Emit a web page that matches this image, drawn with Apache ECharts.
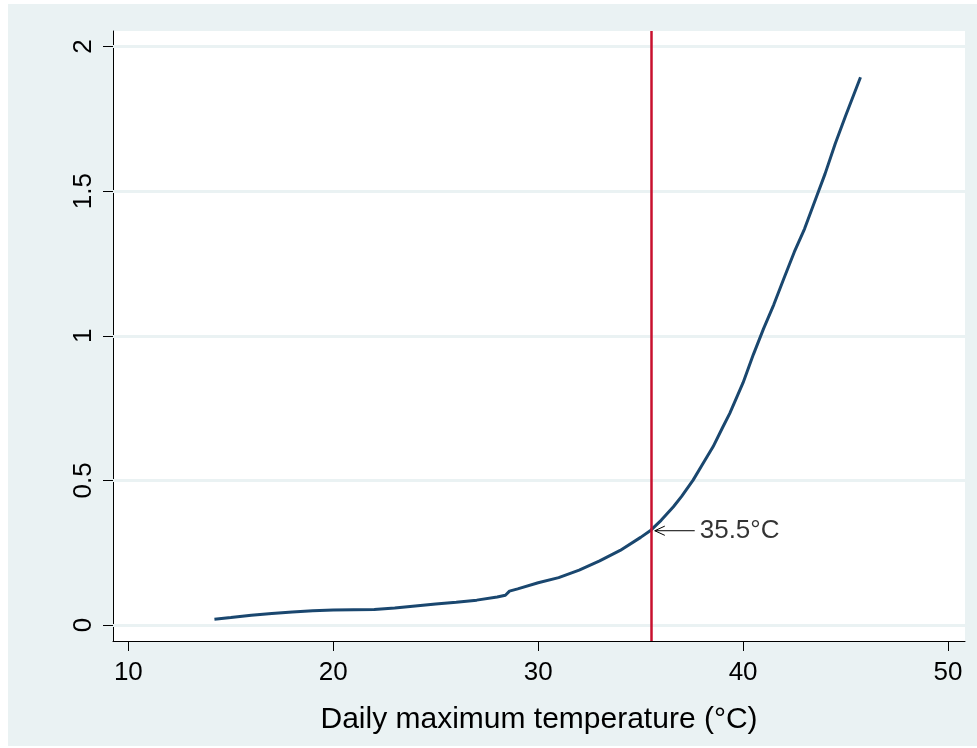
<!DOCTYPE html>
<html>
<head>
<meta charset="utf-8">
<script src="https://cdn.jsdelivr.net/npm/echarts@6/dist/echarts.min.js"></script>
<style>
html,body{margin:0;padding:0;background:#fff;}
#c{position:absolute;left:8px;top:4px;width:969px;height:742px;}
</style>
</head>
<body>
<div id="c"></div>
<script>
// Daily maximum temperature (°C) vs. response
const temps = [14.2,15,16,17,18,19,20,21,22,23,24,25,26,27,28,28.4,28.6,29,30,31,32,33,34,35,35.5,36,36.6,37,37.56,38,38.54,39,39.35,40,40.5,41,41.5,42,42.5,43,43.5,44,44.5,45,45.73];
const values = [0.020,0.026,0.034,0.040,0.045,0.049,0.052,0.053,0.054,0.059,0.066,0.073,0.079,0.086,0.097,0.103,0.117,0.125,0.146,0.164,0.190,0.222,0.258,0.303,0.328,0.362,0.409,0.445,0.501,0.553,0.617,0.683,0.732,0.838,0.935,1.025,1.108,1.200,1.290,1.370,1.465,1.560,1.665,1.760,1.894];
const xTicks = [10,20,30,40,50];
const yTicks = [0,0.5,1,1.5,2];
const yTickLabels = ['0','0.5','1','1.5','2'];
const threshold = 35.5;
const thresholdLabel = '35.5°C';
const arrowTip = [35.69, 0.326];
const arrowTail = [37.64, 0.326];
const arrowArmX = 36.18, arrowArmDy = 0.016;

const FONT = '"Liberation Sans", Arial, sans-serif';
const seriesData = temps.map((t,i)=>[t, values[i]]);
const chart = echarts.init(document.getElementById('c'));
chart.setOption({
  backgroundColor: '#eaf2f3',
  animation: false,
  grid: {left:105, top:27, right:12, bottom:105, show:true, backgroundColor:'#ffffff', borderWidth:0},
  xAxis: {
    type:'value', min:9.25, max:50.83,
    name:'Daily maximum temperature (°C)', nameLocation:'middle', nameGap:64,
    nameTextStyle:{fontFamily:FONT, fontSize:30, color:'#000', verticalAlign:'top'},
    axisLine:{show:true, onZero:false, lineStyle:{color:'#000', width:1}},
    axisTick:{show:true, length:10, customValues:xTicks, lineStyle:{color:'#000'}},
    axisLabel:{customValues:xTicks, fontFamily:FONT, fontSize:26, color:'#000', margin:19},
    splitLine:{show:false}
  },
  yAxis: {
    type:'value', min:-0.0553, max:2.054,
    axisLine:{show:true, onZero:false, lineStyle:{color:'#000', width:1}},
    axisTick:{show:true, length:10, customValues:yTicks, lineStyle:{color:'#000'}},
    axisLabel:{customValues:yTicks, rotate:90, fontFamily:FONT, fontSize:26, color:'#000', margin:16,
      formatter:(v)=>{const i=yTicks.indexOf(v);return i>=0?yTickLabels[i]:'';}},
    splitLine:{show:false}
  },
  series: [
    {
      type:'line', data:[], silent:true, z:1,
      markLine:{silent:true, z:1, symbol:['none','none'], label:{show:false},
        lineStyle:{color:'#eaf2f3', width:3, type:'solid'},
        data: yTicks.map(v=>({yAxis:v}))}
    },
    {
      type:'line', data:seriesData, showSymbol:false, smooth:false,
      lineStyle:{color:'#1a476f', width:3}, z:3,
      markLine:{silent:true, z:4, symbol:['none','none'], label:{show:false},
        lineStyle:{color:'#c8102e', width:2.5, type:'solid'},
        data:[{xAxis:threshold}]}
    },
    {
      type:'line', showSymbol:false, connectNulls:false, z:6,
      lineStyle:{color:'#000', width:1},
      data:[[arrowArmX, arrowTip[1]+arrowArmDy], arrowTip, [arrowArmX, arrowTip[1]-arrowArmDy], '-', arrowTip, arrowTail]
    },
    {
      type:'scatter', symbolSize:0, z:7,
      data:[{value:arrowTail, label:{show:true, position:'right', distance:5, formatter:thresholdLabel,
        fontFamily:FONT, fontSize:26, color:'#000'}}]
    }
  ]
});
</script>
</body>
</html>
